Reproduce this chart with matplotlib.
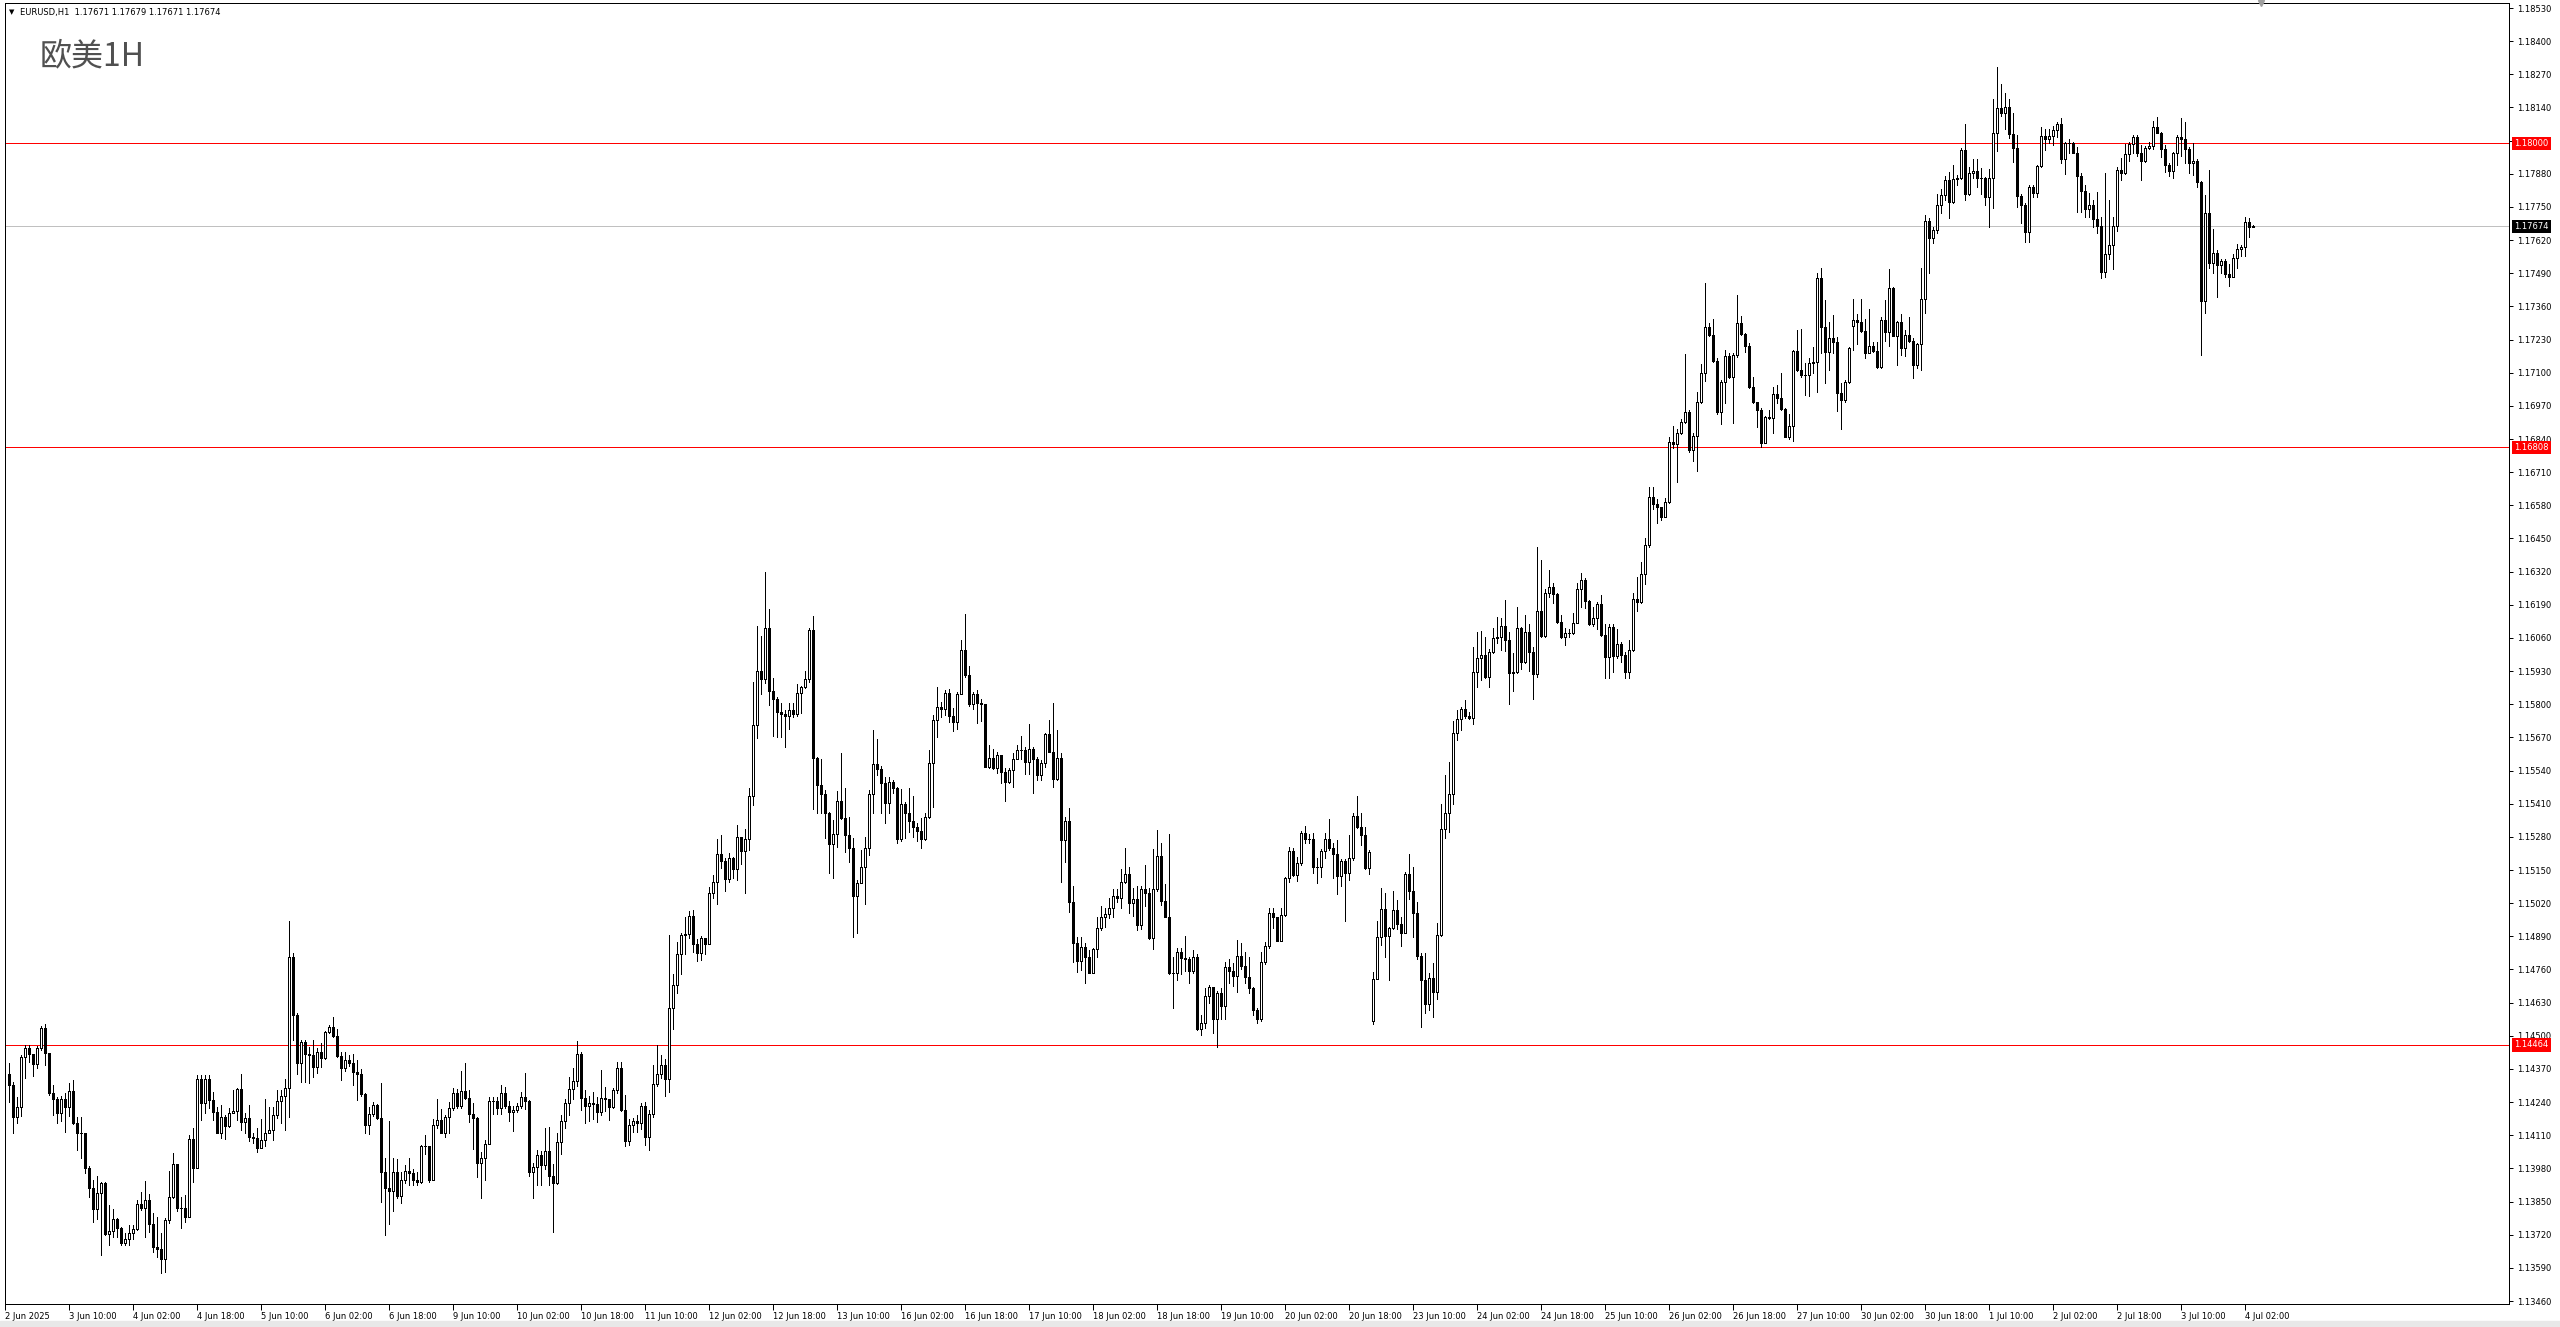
import numpy as np
import pandas as pd
import matplotlib
matplotlib.use('Agg')
from matplotlib import pyplot as plt
from matplotlib.transforms import blended_transform_factory

plt.rcParams['font.family'] = ['DejaVu Sans']

# Chart header / title
symbol_info = 'EURUSD,H1  1.17671 1.17679 1.17671 1.17674'
title = '欧美1H'

# Hourly bars, first bar time, first open and weekend-gap opens
first_bar = '2025-06-02 19:00'
first_open = 1.14352
gap_opens = {341: 1.14559, 461: 1.17283}

closes = [
    1.14307, 1.14183, 1.14222, 1.14415, 1.14454, 1.14427, 1.14389, 1.14451, 1.14532, 1.14431,
    1.14277, 1.14254, 1.14198, 1.14254, 1.14219, 1.14284, 1.14159, 1.14120, 1.14117, 1.13980,
    1.13905, 1.13819, 1.13882, 1.13921, 1.13721, 1.13734, 1.13780, 1.13747, 1.13686, 1.13705,
    1.13725, 1.13741, 1.13840, 1.13826, 1.13856, 1.13762, 1.13673, 1.13664, 1.13623, 1.13777,
    1.13869, 1.13996, 1.13823, 1.13823, 1.13790, 1.14094, 1.13982, 1.14329, 1.14235, 1.14329,
    1.14248, 1.14202, 1.14120, 1.14180, 1.14147, 1.14196, 1.14206, 1.14291, 1.14163, 1.14176,
    1.14104, 1.14101, 1.14058, 1.14091, 1.14117, 1.14130, 1.14189, 1.14244, 1.14264, 1.14294,
    1.14807, 1.14581, 1.14392, 1.14477, 1.14428, 1.14424, 1.14379, 1.14435, 1.14411, 1.14516,
    1.14535, 1.14499, 1.14422, 1.14375, 1.14405, 1.14394, 1.14359, 1.14352, 1.14270, 1.14150,
    1.14192, 1.14228, 1.14179, 1.13967, 1.13902, 1.13893, 1.13967, 1.13872, 1.13933, 1.13971,
    1.13962, 1.13933, 1.13927, 1.14067, 1.14066, 1.13933, 1.14152, 1.14171, 1.14119, 1.14183,
    1.14217, 1.14274, 1.14226, 1.14285, 1.14257, 1.14195, 1.14178, 1.14002, 1.14019, 1.14074,
    1.14243, 1.14243, 1.14217, 1.14277, 1.14226, 1.14200, 1.14209, 1.14226, 1.14260, 1.14243,
    1.13967, 1.13984, 1.14031, 1.13993, 1.14048, 1.13950, 1.13924, 1.14083, 1.14166, 1.14235,
    1.14290, 1.14321, 1.14430, 1.14257, 1.14226, 1.14235, 1.14231, 1.14200, 1.14257, 1.14252,
    1.14221, 1.14286, 1.14373, 1.14209, 1.14088, 1.14152, 1.14166, 1.14157, 1.14226, 1.14102,
    1.14195, 1.14309, 1.14350, 1.14385, 1.14329, 1.14609, 1.14700, 1.14821, 1.14895, 1.14899,
    1.14971, 1.14861, 1.14826, 1.14882, 1.14861, 1.15058, 1.15101, 1.15213, 1.15184, 1.15115,
    1.15196, 1.15153, 1.15278, 1.15223, 1.15270, 1.15442, 1.15719, 1.15930, 1.15898, 1.16098,
    1.15853, 1.15819, 1.15771, 1.15760, 1.15754, 1.15777, 1.15760, 1.15843, 1.15866, 1.15898,
    1.16091, 1.15588, 1.15483, 1.15448, 1.15372, 1.15251, 1.15290, 1.15421, 1.15355, 1.15287,
    1.15235, 1.15048, 1.15100, 1.15163, 1.15235, 1.15447, 1.15564, 1.15545, 1.15490, 1.15414,
    1.15496, 1.15470, 1.15270, 1.15409, 1.15375, 1.15344, 1.15320, 1.15304, 1.15270, 1.15357,
    1.15568, 1.15738, 1.15788, 1.15781, 1.15843, 1.15754, 1.15732, 1.15840, 1.16013, 1.15915,
    1.15801, 1.15839, 1.15803, 1.15801, 1.15555, 1.15588, 1.15549, 1.15601, 1.15536, 1.15496,
    1.15542, 1.15584, 1.15621, 1.15621, 1.15575, 1.15623, 1.15584, 1.15523, 1.15571, 1.15683,
    1.15614, 1.15506, 1.15588, 1.15268, 1.15344, 1.15026, 1.14865, 1.14795, 1.14847, 1.14808,
    1.14748, 1.14839, 1.14921, 1.14967, 1.14978, 1.15000, 1.15048, 1.15039, 1.15102, 1.15133,
    1.15022, 1.15036, 1.14934, 1.15074, 1.15061, 1.14885, 1.15074, 1.15205, 1.15030, 1.14967,
    1.14747, 1.14747, 1.14827, 1.14804, 1.14800, 1.14755, 1.14808, 1.14525, 1.14551, 1.14657,
    1.14690, 1.14564, 1.14666, 1.14617, 1.14768, 1.14755, 1.14736, 1.14813, 1.14775, 1.14729,
    1.14686, 1.14601, 1.14564, 1.14791, 1.14852, 1.14980, 1.14964, 1.14873, 1.14974, 1.15117,
    1.15226, 1.15130, 1.15179, 1.15294, 1.15270, 1.15270, 1.15163, 1.15163, 1.15226, 1.15270,
    1.15238, 1.15213, 1.15128, 1.15185, 1.15137, 1.15196, 1.15362, 1.15320, 1.15287, 1.15157,
    1.15219, 1.14721, 1.14886, 1.14996, 1.14893, 1.14921, 1.14993, 1.14938, 1.14904, 1.15133,
    1.15069, 1.14983, 1.14814, 1.14719, 1.14623, 1.14725, 1.14673, 1.14895, 1.15309, 1.15372,
    1.15448, 1.15689, 1.15741, 1.15780, 1.15754, 1.15745, 1.15925, 1.15980, 1.15993, 1.15908,
    1.16004, 1.16058, 1.16062, 1.16107, 1.16052, 1.15921, 1.15928, 1.16098, 1.15967, 1.16085,
    1.16006, 1.15919, 1.16167, 1.16068, 1.16238, 1.16261, 1.16232, 1.16124, 1.16062, 1.16081,
    1.16078, 1.16120, 1.16251, 1.16287, 1.16206, 1.16115, 1.16137, 1.16193, 1.16072, 1.15987,
    1.16102, 1.15989, 1.16036, 1.15993, 1.15928, 1.16013, 1.16212, 1.16202, 1.16311, 1.16424,
    1.16611, 1.16585, 1.16575, 1.16536, 1.16594, 1.16830, 1.16820, 1.16862, 1.16908, 1.16947,
    1.16797, 1.16852, 1.16986, 1.17100, 1.17278, 1.17248, 1.17147, 1.16947, 1.17065, 1.17167,
    1.17082, 1.17169, 1.17294, 1.17250, 1.17205, 1.17045, 1.16987, 1.16954, 1.16826, 1.16928,
    1.16921, 1.17016, 1.16999, 1.16956, 1.16849, 1.16891, 1.17186, 1.17111, 1.17091, 1.17091,
    1.17137, 1.17143, 1.17470, 1.17278, 1.17183, 1.17235, 1.17222, 1.17019, 1.16993, 1.17065,
    1.17196, 1.17307, 1.17300, 1.17265, 1.17179, 1.17205, 1.17187, 1.17121, 1.17307, 1.17261,
    1.17431, 1.17245, 1.17300, 1.17196, 1.17248, 1.17226, 1.17130, 1.17213, 1.17388, 1.17696,
    1.17627, 1.17660, 1.17758, 1.17797, 1.17856, 1.17771, 1.17858, 1.17862, 1.17973, 1.17801,
    1.17882, 1.17892, 1.17862, 1.17862, 1.17790, 1.17862, 1.18041, 1.18137, 1.18117, 1.18140,
    1.18036, 1.17980, 1.17793, 1.17758, 1.17653, 1.17829, 1.17806, 1.17910, 1.18028, 1.18015,
    1.18028, 1.18052, 1.18075, 1.17937, 1.18002, 1.18002, 1.17963, 1.17871, 1.17814, 1.17741,
    1.17758, 1.17701, 1.17675, 1.17496, 1.17565, 1.17601, 1.17675, 1.17895, 1.17884, 1.17958,
    1.17997, 1.18023, 1.17963, 1.17931, 1.17980, 1.17989, 1.18065, 1.18041, 1.17976, 1.17914,
    1.17892, 1.17960, 1.18023, 1.18015, 1.17976, 1.17924, 1.17931, 1.17849, 1.17382, 1.17728,
    1.17531, 1.17568, 1.17522, 1.17539, 1.17487, 1.17477, 1.17548, 1.17584, 1.17594, 1.17692,
    1.17670, 1.17674,
]

highs = [
    1.14392, 1.14320, 1.14261, 1.14424, 1.14463, 1.14463, 1.14430, 1.14460, 1.14538, 1.14546,
    1.14434, 1.14306, 1.14261, 1.14262, 1.14277, 1.14316, 1.14326, 1.14183, 1.14183, 1.14120,
    1.13990, 1.13934, 1.13950, 1.13928, 1.13928, 1.13836, 1.13819, 1.13784, 1.13751, 1.13725,
    1.13758, 1.13758, 1.13856, 1.13888, 1.13931, 1.13879, 1.13806, 1.13790, 1.13725, 1.13784,
    1.13971, 1.14039, 1.13996, 1.13869, 1.13875, 1.14111, 1.14137, 1.14346, 1.14346, 1.14346,
    1.14346, 1.14281, 1.14222, 1.14228, 1.14190, 1.14215, 1.14287, 1.14297, 1.14352, 1.14196,
    1.14228, 1.14117, 1.14137, 1.14172, 1.14251, 1.14222, 1.14219, 1.14287, 1.14287, 1.14330,
    1.14951, 1.14825, 1.14590, 1.14483, 1.14483, 1.14457, 1.14483, 1.14454, 1.14470, 1.14518,
    1.14542, 1.14575, 1.14526, 1.14437, 1.14437, 1.14424, 1.14427, 1.14405, 1.14368, 1.14274,
    1.14222, 1.14241, 1.14232, 1.14316, 1.14022, 1.14166, 1.14022, 1.14015, 1.13967, 1.13993,
    1.14019, 1.13976, 1.13964, 1.14071, 1.14110, 1.14067, 1.14174, 1.14252, 1.14212, 1.14191,
    1.14240, 1.14295, 1.14290, 1.14360, 1.14393, 1.14286, 1.14235, 1.14183, 1.14045, 1.14091,
    1.14260, 1.14260, 1.14260, 1.14308, 1.14298, 1.14243, 1.14226, 1.14235, 1.14281, 1.14355,
    1.14247, 1.14002, 1.14053, 1.14048, 1.14140, 1.14143, 1.13998, 1.14117, 1.14188, 1.14252,
    1.14338, 1.14373, 1.14480, 1.14436, 1.14286, 1.14264, 1.14281, 1.14260, 1.14364, 1.14298,
    1.14226, 1.14295, 1.14398, 1.14398, 1.14269, 1.14174, 1.14178, 1.14188, 1.14235, 1.14240,
    1.14209, 1.14385, 1.14462, 1.14424, 1.14407, 1.14895, 1.14744, 1.14868, 1.14902, 1.14964,
    1.14989, 1.14994, 1.14878, 1.14890, 1.14878, 1.15085, 1.15132, 1.15270, 1.15287, 1.15196,
    1.15218, 1.15201, 1.15325, 1.15278, 1.15309, 1.15472, 1.15886, 1.16107, 1.16067, 1.16320,
    1.16172, 1.15902, 1.15830, 1.15804, 1.15777, 1.15804, 1.15806, 1.15879, 1.15872, 1.15932,
    1.16098, 1.16147, 1.15594, 1.15585, 1.15464, 1.15379, 1.15346, 1.15461, 1.15608, 1.15470,
    1.15359, 1.15274, 1.15111, 1.15229, 1.15279, 1.15464, 1.15699, 1.15662, 1.15558, 1.15516,
    1.15516, 1.15503, 1.15477, 1.15466, 1.15418, 1.15470, 1.15440, 1.15333, 1.15353, 1.15372,
    1.15621, 1.15758, 1.15866, 1.15810, 1.15856, 1.15859, 1.15784, 1.15849, 1.16052, 1.16153,
    1.15950, 1.15849, 1.15856, 1.15819, 1.15801, 1.15640, 1.15623, 1.15614, 1.15601, 1.15549,
    1.15549, 1.15608, 1.15640, 1.15676, 1.15634, 1.15723, 1.15634, 1.15595, 1.15582, 1.15689,
    1.15738, 1.15804, 1.15699, 1.15610, 1.15359, 1.15392, 1.15089, 1.14889, 1.14889, 1.14863,
    1.14836, 1.14843, 1.14967, 1.15009, 1.15000, 1.15039, 1.15074, 1.15074, 1.15153, 1.15235,
    1.15163, 1.15078, 1.15087, 1.15087, 1.15170, 1.15078, 1.15231, 1.15307, 1.15257, 1.15095,
    1.15291, 1.14810, 1.14843, 1.14843, 1.14891, 1.14810, 1.14836, 1.14821, 1.14581, 1.14686,
    1.14699, 1.14693, 1.14677, 1.14686, 1.14791, 1.14800, 1.14784, 1.14876, 1.14862, 1.14830,
    1.14810, 1.14693, 1.14608, 1.14830, 1.14869, 1.15000, 1.15000, 1.14960, 1.15000, 1.15124,
    1.15242, 1.15235, 1.15200, 1.15304, 1.15323, 1.15291, 1.15294, 1.15196, 1.15231, 1.15294,
    1.15349, 1.15257, 1.15268, 1.15192, 1.15192, 1.15287, 1.15375, 1.15440, 1.15372, 1.15320,
    1.15228, 1.14751, 1.14950, 1.15078, 1.15059, 1.14928, 1.15068, 1.15032, 1.14967, 1.15144,
    1.15213, 1.15160, 1.15023, 1.14826, 1.14823, 1.14748, 1.14784, 1.14941, 1.15409, 1.15523,
    1.15575, 1.15736, 1.15777, 1.15791, 1.15817, 1.15771, 1.16026, 1.16085, 1.16089, 1.16062,
    1.16015, 1.16098, 1.16141, 1.16137, 1.16209, 1.16085, 1.15999, 1.16180, 1.16104, 1.16150,
    1.16115, 1.16026, 1.16418, 1.16366, 1.16251, 1.16327, 1.16274, 1.16238, 1.16150, 1.16098,
    1.16094, 1.16159, 1.16274, 1.16314, 1.16294, 1.16209, 1.16183, 1.16202, 1.16229, 1.16115,
    1.16115, 1.16115, 1.16094, 1.16045, 1.16006, 1.16052, 1.16238, 1.16298, 1.16359, 1.16451,
    1.16653, 1.16653, 1.16604, 1.16559, 1.16608, 1.16849, 1.16891, 1.16878, 1.16917, 1.17173,
    1.16954, 1.16862, 1.17026, 1.17134, 1.17453, 1.17294, 1.17309, 1.17156, 1.17071, 1.17189,
    1.17176, 1.17176, 1.17405, 1.17322, 1.17254, 1.17215, 1.17084, 1.16964, 1.16960, 1.16931,
    1.16954, 1.17043, 1.17052, 1.17098, 1.16960, 1.16938, 1.17189, 1.17267, 1.17270, 1.17137,
    1.17156, 1.17200, 1.17492, 1.17510, 1.17385, 1.17300, 1.17326, 1.17241, 1.17058, 1.17071,
    1.17202, 1.17388, 1.17330, 1.17388, 1.17309, 1.17349, 1.17222, 1.17222, 1.17320, 1.17385,
    1.17507, 1.17435, 1.17304, 1.17330, 1.17267, 1.17320, 1.17235, 1.17218, 1.17509, 1.17718,
    1.17705, 1.17673, 1.17801, 1.17819, 1.17871, 1.17885, 1.17914, 1.17875, 1.17980, 1.18075,
    1.17908, 1.17937, 1.17937, 1.17901, 1.17869, 1.17898, 1.18172, 1.18297, 1.18232, 1.18198,
    1.18172, 1.18120, 1.18032, 1.17801, 1.17767, 1.17836, 1.17836, 1.17914, 1.18065, 1.18054,
    1.18054, 1.18067, 1.18084, 1.18097, 1.18006, 1.18015, 1.18006, 1.17984, 1.17882, 1.17836,
    1.17806, 1.17777, 1.17810, 1.17712, 1.17882, 1.17777, 1.17712, 1.17905, 1.17941, 1.17997,
    1.18006, 1.18032, 1.18032, 1.17993, 1.17989, 1.18006, 1.18088, 1.18104, 1.18045, 1.17993,
    1.17924, 1.17967, 1.18032, 1.18097, 1.18084, 1.17986, 1.17999, 1.17937, 1.17853, 1.17797,
    1.17895, 1.17662, 1.17581, 1.17545, 1.17545, 1.17526, 1.17565, 1.17605, 1.17601, 1.17712,
    1.17705, 1.17679,
]

lows = [
    1.14241, 1.14117, 1.14159, 1.14185, 1.14333, 1.14398, 1.14343, 1.14375, 1.14444, 1.14385,
    1.14267, 1.14189, 1.14159, 1.14166, 1.14121, 1.14185, 1.14156, 1.14052, 1.14019, 1.13963,
    1.13866, 1.13771, 1.13780, 1.13640, 1.13718, 1.13679, 1.13712, 1.13712, 1.13679, 1.13679,
    1.13679, 1.13705, 1.13738, 1.13817, 1.13712, 1.13732, 1.13653, 1.13634, 1.13568, 1.13575,
    1.13764, 1.13865, 1.13813, 1.13747, 1.13771, 1.13793, 1.13928, 1.13982, 1.14169, 1.14196,
    1.14215, 1.14169, 1.14117, 1.14100, 1.14097, 1.14143, 1.14196, 1.14169, 1.14130, 1.14117,
    1.14087, 1.14078, 1.14043, 1.14058, 1.14068, 1.14117, 1.14091, 1.14176, 1.14159, 1.14130,
    1.14183, 1.14483, 1.14352, 1.14320, 1.14320, 1.14313, 1.14337, 1.14355, 1.14379, 1.14407,
    1.14509, 1.14496, 1.14418, 1.14326, 1.14363, 1.14382, 1.14307, 1.14248, 1.14264, 1.14117,
    1.14113, 1.14185, 1.14172, 1.13849, 1.13717, 1.13760, 1.13812, 1.13864, 1.13846, 1.13924,
    1.13915, 1.13915, 1.13915, 1.13924, 1.14036, 1.13927, 1.13933, 1.14140, 1.14119, 1.14105,
    1.14119, 1.14209, 1.14217, 1.14217, 1.14252, 1.14160, 1.14057, 1.13946, 1.13864, 1.13936,
    1.14074, 1.14195, 1.14195, 1.14195, 1.14217, 1.14165, 1.14126, 1.14200, 1.14217, 1.14212,
    1.13950, 1.13864, 1.13915, 1.13915, 1.13976, 1.13915, 1.13729, 1.13919, 1.14036, 1.14140,
    1.14191, 1.14252, 1.14304, 1.14209, 1.14157, 1.14166, 1.14174, 1.14160, 1.14191, 1.14205,
    1.14171, 1.14217, 1.14277, 1.14205, 1.14067, 1.14071, 1.14122, 1.14122, 1.14136, 1.14071,
    1.14053, 1.14183, 1.14304, 1.14333, 1.14264, 1.14281, 1.14528, 1.14666, 1.14744, 1.14821,
    1.14885, 1.14830, 1.14792, 1.14799, 1.14821, 1.14861, 1.15040, 1.15016, 1.15158, 1.15068,
    1.15102, 1.15120, 1.15109, 1.15175, 1.15058, 1.15230, 1.15403, 1.15666, 1.15839, 1.15882,
    1.15797, 1.15676, 1.15673, 1.15673, 1.15634, 1.15702, 1.15751, 1.15754, 1.15764, 1.15862,
    1.15889, 1.15388, 1.15372, 1.15372, 1.15277, 1.15140, 1.15117, 1.15239, 1.15349, 1.15222,
    1.15183, 1.14889, 1.14904, 1.15100, 1.15015, 1.15209, 1.15372, 1.15523, 1.15375, 1.15336,
    1.15372, 1.15451, 1.15257, 1.15265, 1.15274, 1.15300, 1.15281, 1.15265, 1.15235, 1.15268,
    1.15353, 1.15398, 1.15670, 1.15751, 1.15758, 1.15732, 1.15696, 1.15702, 1.15840, 1.15908,
    1.15793, 1.15780, 1.15725, 1.15736, 1.15555, 1.15549, 1.15547, 1.15532, 1.15490, 1.15422,
    1.15490, 1.15474, 1.15584, 1.15584, 1.15527, 1.15527, 1.15453, 1.15503, 1.15503, 1.15555,
    1.15614, 1.15477, 1.15503, 1.15104, 1.15183, 1.14987, 1.14791, 1.14751, 1.14758, 1.14708,
    1.14745, 1.14745, 1.14808, 1.14915, 1.14928, 1.14961, 1.14965, 1.15026, 1.15002, 1.15098,
    1.14983, 1.14970, 1.14915, 1.14917, 1.15009, 1.14878, 1.14842, 1.15069, 1.15013, 1.14964,
    1.14741, 1.14610, 1.14719, 1.14741, 1.14754, 1.14708, 1.14747, 1.14523, 1.14503, 1.14529,
    1.14627, 1.14510, 1.14457, 1.14564, 1.14564, 1.14706, 1.14695, 1.14673, 1.14761, 1.14706,
    1.14666, 1.14582, 1.14549, 1.14559, 1.14782, 1.14843, 1.14921, 1.14872, 1.14895, 1.14970,
    1.15104, 1.15127, 1.15108, 1.15170, 1.15255, 1.15255, 1.15137, 1.15100, 1.15124, 1.15196,
    1.15228, 1.15117, 1.15056, 1.15087, 1.14951, 1.15111, 1.15189, 1.15313, 1.15248, 1.15153,
    1.15134, 1.14546, 1.14721, 1.14856, 1.14810, 1.14719, 1.14917, 1.14917, 1.14852, 1.14902,
    1.15035, 1.14889, 1.14800, 1.14536, 1.14591, 1.14601, 1.14572, 1.14643, 1.14891, 1.15274,
    1.15300, 1.15409, 1.15660, 1.15699, 1.15745, 1.15742, 1.15723, 1.15866, 1.15895, 1.15902,
    1.15866, 1.15999, 1.16041, 1.16013, 1.16010, 1.15801, 1.15853, 1.15921, 1.15937, 1.15963,
    1.15932, 1.15819, 1.15906, 1.16062, 1.16065, 1.16222, 1.16196, 1.16120, 1.16058, 1.16032,
    1.16062, 1.16076, 1.16117, 1.16180, 1.16176, 1.16111, 1.16107, 1.16094, 1.16068, 1.15902,
    1.15902, 1.15928, 1.15980, 1.15967, 1.15902, 1.15902, 1.16010, 1.16167, 1.16196, 1.16272,
    1.16418, 1.16564, 1.16512, 1.16523, 1.16536, 1.16590, 1.16804, 1.16673, 1.16860, 1.16904,
    1.16790, 1.16755, 1.16716, 1.16982, 1.17069, 1.17244, 1.17143, 1.16938, 1.16899, 1.16982,
    1.17078, 1.16901, 1.17163, 1.17248, 1.17183, 1.17039, 1.16982, 1.16889, 1.16807, 1.16826,
    1.16918, 1.16862, 1.16982, 1.16953, 1.16846, 1.16840, 1.16834, 1.17108, 1.17082, 1.17013,
    1.17009, 1.17098, 1.17026, 1.17176, 1.17058, 1.17111, 1.17176, 1.16951, 1.16878, 1.16987,
    1.17058, 1.17189, 1.17213, 1.17261, 1.17157, 1.17176, 1.17183, 1.17117, 1.17117, 1.17226,
    1.17205, 1.17244, 1.17130, 1.17170, 1.17166, 1.17222, 1.17078, 1.17117, 1.17111, 1.17335,
    1.17490, 1.17607, 1.17649, 1.17725, 1.17777, 1.17705, 1.17764, 1.17836, 1.17858, 1.17777,
    1.17797, 1.17862, 1.17829, 1.17801, 1.17758, 1.17673, 1.17744, 1.17971, 1.18106, 1.18054,
    1.18019, 1.17928, 1.17751, 1.17688, 1.17614, 1.17614, 1.17790, 1.17790, 1.17908, 1.17973,
    1.18002, 1.17993, 1.18026, 1.17921, 1.17879, 1.17960, 1.17960, 1.17731, 1.17731, 1.17712,
    1.17712, 1.17673, 1.17649, 1.17470, 1.17474, 1.17545, 1.17505, 1.17657, 1.17856, 1.17879,
    1.17931, 1.17960, 1.17950, 1.17856, 1.17927, 1.17976, 1.17976, 1.18039, 1.17945, 1.17888,
    1.17871, 1.17862, 1.17914, 1.17950, 1.17924, 1.17884, 1.17876, 1.17829, 1.17169, 1.17335,
    1.17509, 1.17492, 1.17398, 1.17490, 1.17474, 1.17440, 1.17474, 1.17509, 1.17558, 1.17558,
    1.17633, 1.17671,
]

# Horizontal levels
red_levels = [1.18000, 1.16808, 1.14464]
bid_price = 1.17674

# Price scale ticks and time labels
price_ticks = [1.13460 + 0.0013 * k for k in range(40)]
time_labels = ['3 Jun 10:00', '4 Jun 02:00', '4 Jun 18:00', '5 Jun 10:00', '6 Jun 02:00',
               '6 Jun 18:00', '9 Jun 10:00', '10 Jun 02:00', '10 Jun 18:00', '11 Jun 10:00',
               '12 Jun 02:00', '12 Jun 18:00', '13 Jun 10:00', '16 Jun 02:00', '16 Jun 18:00',
               '17 Jun 10:00', '18 Jun 02:00', '18 Jun 18:00', '19 Jun 10:00', '20 Jun 02:00',
               '20 Jun 18:00', '23 Jun 10:00', '24 Jun 02:00', '24 Jun 18:00', '25 Jun 10:00',
               '26 Jun 02:00', '26 Jun 18:00', '27 Jun 10:00', '30 Jun 02:00', '30 Jun 18:00',
               '1 Jul 10:00', '2 Jul 02:00', '2 Jul 18:00', '3 Jul 10:00', '4 Jul 02:00']

# Build OHLC
n = min(len(closes), len(highs), len(lows))
c = np.array(closes[:n])
o = np.concatenate([[first_open], c[:-1]])
for k, v in gap_opens.items():
    o[k] = v
h = np.maximum.reduce([np.array(highs[:n]), o, c])
l = np.minimum.reduce([np.array(lows[:n]), o, c])
x = np.arange(n)

hours = pd.date_range(first_bar, periods=2 * n, freq='h')
hours = hours[hours.dayofweek < 5][:n]

# Figure laid out in pixels like the terminal window
W, H = 2560, 1327
px = 0.72  # one pixel in points at dpi 100
fig = plt.figure(figsize=(W / 100, H / 100), dpi=100)
ax = fig.add_axes([5 / W, 23 / H, 2504 / W, 1301 / H])
ax.set_xlim(-1, 625)
ax.set_ylim(1.1853 - 1296 / 25503, 1.1853 + 5 / 25503)

# Levels
for lv in red_levels:
    ax.axhline(lv, color='#ff0000', lw=px, zorder=2)
ax.axhline(bid_price, color='#c0c0c0', lw=px, zorder=2)

# Candles
ax.vlines(x, l, h, color='black', lw=px, antialiased=False, zorder=3)
ax.bar(x, np.maximum(np.abs(c - o), 1e-7), bottom=np.minimum(o, c), width=0.5,
       color=np.where(c >= o, 'white', 'black'), edgecolor='black',
       linewidth=px, antialiased=False, zorder=4)

# Price scale on the right
ax.yaxis.tick_right()
ax.set_yticks(price_ticks)
ax.set_yticklabels(['%.5f' % p for p in price_ticks])
ax.tick_params(axis='y', direction='out', length=3, width=px, pad=3, labelsize=6)

# Time scale
tick_pos = [-1]
tick_txt = ['%d %s' % (hours[0].day, hours[0].strftime('%b %Y'))]
for lab in time_labels:
    t = pd.to_datetime('2025 ' + lab, format='%Y %d %b %H:%M')
    tick_pos.append(int(hours.get_loc(t)))
    tick_txt.append(lab)
ax.set_xticks(tick_pos)
ax.set_xticklabels(tick_txt, ha='left')
ax.tick_params(axis='x', direction='out', length=4, width=px, pad=2, labelsize=6)

for s in ax.spines.values():
    s.set_linewidth(px)
    s.set_color('black')

# Price boxes on the scale
trans = blended_transform_factory(ax.transAxes, ax.transData)
for lv in red_levels:
    ax.annotate('%.5f' % lv, xy=(1, lv), xycoords=trans, xytext=(4, 0), textcoords='offset points',
                color='white', fontsize=6, va='center', ha='left', annotation_clip=False, zorder=10,
                bbox=dict(boxstyle='square,pad=0.25', facecolor='#ff0000', edgecolor='none'))
ax.annotate('%.5f' % bid_price, xy=(1, bid_price), xycoords=trans, xytext=(4, 0),
            textcoords='offset points', color='white', fontsize=6, va='center', ha='left',
            annotation_clip=False, zorder=10,
            bbox=dict(boxstyle='square,pad=0.25', facecolor='black', edgecolor='none'))

# Chart shift marker
ax.plot([n + 1], [1.0], marker='v', ms=4, color='#a0a0a0',
        transform=blended_transform_factory(ax.transData, ax.transAxes), clip_on=False, zorder=10)

# Header and title
fig.text(9 / W, 1 - 12 / H, '▼', fontsize=5, va='center', ha='left', color='black')
fig.text(20 / W, 1 - 12 / H, symbol_info, fontsize=6, va='center', ha='left', color='black')
fig.text(40 / W, 1 - 56 / H, title, fontsize=23, va='center', ha='left', color='#505050',
         family=['Noto Sans CJK SC', 'DejaVu Sans'])

# Grey strip at window bottom
fig.patches.append(plt.Rectangle((0, 0), 1, 6 / H, transform=fig.transFigure, color='#e8e8e8', zorder=0))

fig.savefig('out.png', dpi=100, facecolor='white')
